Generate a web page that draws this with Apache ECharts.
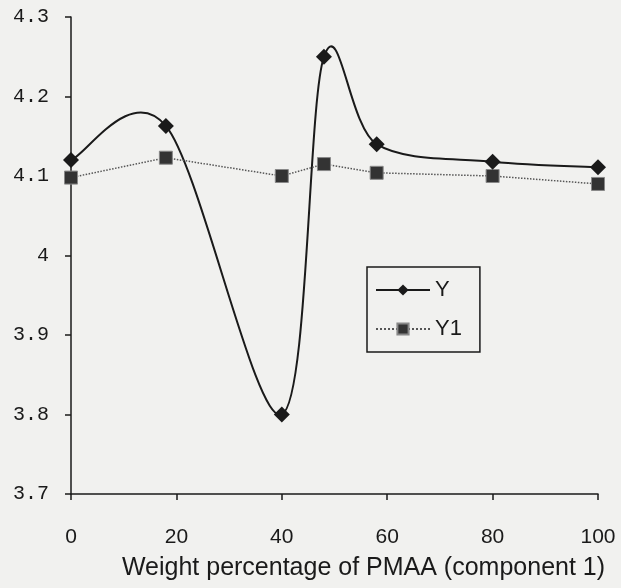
<!DOCTYPE html>
<html>
<head>
<meta charset="utf-8">
<script src="https://cdn.jsdelivr.net/npm/echarts@6/dist/echarts.min.js"></script>
<style>
  html, body { margin: 0; padding: 0; background: #f1f1ef; }
  #chart { width: 621px; height: 588px; }
</style>
</head>
<body>
<div id="chart"></div>
<script>
// weight percentage of PMAA (x positions of the measured points)
const weights = [0, 18, 40, 48, 58, 80, 100]
const seriesY = [4.12, 4.163, 3.80, 4.25, 4.14, 4.118, 4.111]
const seriesY1 = [4.098, 4.123, 4.10, 4.115, 4.104, 4.10, 4.09]
const legendNames = ['Y', 'Y1']
const xTitle = 'Weight percentage of PMAA (component 1)'

const font = 'Liberation Sans'
const monoFont = 'Liberation Mono'
const ink = '#1a1a1a'

function pairs(xs, ys) {
  return xs.map((x, i) => [x, ys[i]])
}

// spreadsheet-style smoothed segment between point i and i+1
// (control points from the neighbours, in pixel space)
function renderSmooth(params, api) {
  const i = params.dataIndex
  const n = weights.length
  if (i >= n - 1) return null
  const pt = k => api.coord([weights[Math.max(0, Math.min(n - 1, k))], seriesY[Math.max(0, Math.min(n - 1, k))]])
  const p0 = pt(i - 1)
  const p1 = pt(i)
  const p2 = pt(i + 1)
  const p3 = pt(i + 2)
  const t = 1 / 6
  return {
    type: 'bezierCurve',
    shape: {
      x1: p1[0],
      y1: p1[1],
      x2: p2[0],
      y2: p2[1],
      cpx1: p1[0] + (p2[0] - p0[0]) * t,
      cpy1: p1[1] + (p2[1] - p0[1]) * t,
      cpx2: p2[0] - (p3[0] - p1[0]) * t,
      cpy2: p2[1] - (p3[1] - p1[1]) * t
    },
    style: {
      stroke: ink,
      lineWidth: 2,
      fill: null
    }
  }
}

const chart = echarts.init(document.getElementById('chart'))

const options = {
  backgroundColor: '#f1f1ef',
  animation: false,
  grid: {
    left: 71,
    right: 23,
    top: 17,
    bottom: 94
  },
  legend: {
    data: legendNames,
    orient: 'vertical',
    left: 367,
    top: 267,
    itemWidth: 54,
    itemHeight: 14,
    itemGap: 17,
    padding: [12, 18, 12, 8],
    borderColor: ink,
    borderWidth: 1.5,
    lineStyle: { opacity: 1 },
    textStyle: {
      fontFamily: font,
      fontSize: 22,
      color: ink
    }
  },
  xAxis: {
    type: 'value',
    min: 0,
    max: 100,
    interval: 20,
    name: xTitle,
    nameLocation: 'middle',
    nameGap: 62,
    nameTextStyle: {
      fontFamily: font,
      fontSize: 25,
      color: ink,
      padding: [0, 0, 0, 58]
    },
    axisLine: { lineStyle: { color: ink, width: 1.5 } },
    axisTick: { length: 6, lineStyle: { color: ink, width: 1.5 } },
    axisLabel: {
      margin: 33,
      fontFamily: font,
      fontSize: 21,
      color: ink
    },
    splitLine: { show: false }
  },
  yAxis: {
    type: 'value',
    min: 3.7,
    max: 4.3,
    interval: 0.1,
    axisLine: { show: true, lineStyle: { color: ink, width: 1.5 } },
    axisTick: { show: true, length: 6, lineStyle: { color: ink, width: 1.5 } },
    axisLabel: {
      margin: 22,
      fontFamily: monoFont,
      fontSize: 20,
      color: ink,
      formatter: v => String(Math.round(v * 10) / 10)
    },
    splitLine: { show: false }
  },
  series: [
    {
      name: 'Y curve',
      type: 'custom',
      data: pairs(weights, seriesY),
      renderItem: renderSmooth,
      silent: true,
      z: 2
    },
    {
      name: legendNames[0],
      type: 'line',
      data: pairs(weights, seriesY),
      symbol: 'diamond',
      symbolSize: 16,
      itemStyle: { color: ink },
      lineStyle: { color: ink, width: 2, opacity: 0 },
      z: 3
    },
    {
      name: legendNames[1],
      type: 'line',
      data: pairs(weights, seriesY1),
      symbol: 'rect',
      symbolSize: 13,
      itemStyle: { color: '#333', borderColor: '#888', borderWidth: 1 },
      lineStyle: { color: '#555', width: 1.5, type: 'dotted' },
      z: 2
    }
  ]
}

chart.setOption(options)
</script>
</body>
</html>
